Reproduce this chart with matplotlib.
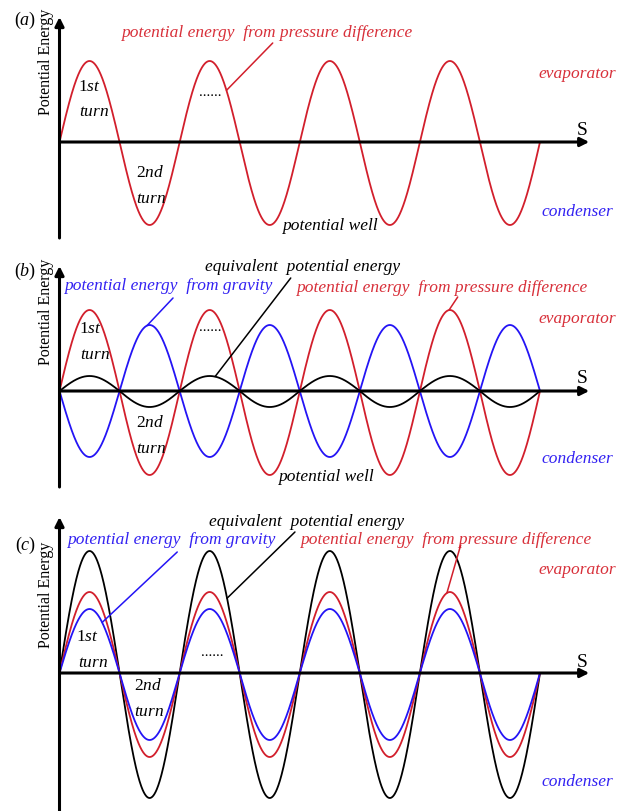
import matplotlib.pyplot as plt
import numpy as np

plt.rcParams['font.family'] = 'Liberation Serif'
plt.rcParams['mathtext.fontset'] = 'custom'
plt.rcParams['mathtext.rm'] = 'Liberation Serif'
plt.rcParams['mathtext.it'] = 'Liberation Serif:italic'

RED = '#d21f2c'
BLUE = '#2414f5'
RED_TXT = '#d8303a'
BLUE_TXT = '#3322f2'

# s in units of half a turn, eight half turns along the pipe
n_half = 8
# amplitudes (upper lobe, lower lobe) for each panel
amp_a_red = (81, 83)
amp_b_red = (81, 84)
amp_b_blue = (66, 66)
amp_b_black = (15, 16)
amp_c_black = (122, 125)
amp_c_red = (81, 84)
amp_c_blue = (64, 67)

s = np.linspace(0, n_half, 2000)


def wave(x, amp, sign=1):
    v = sign * np.sin(np.pi * x)
    return np.where(v >= 0, amp[0] * v, amp[1] * v)


fig = plt.figure(figsize=(6.26, 8.11), dpi=100)
boxes = [[0, 0.6979, 1, 0.3021], [0, 0.3958, 1, 0.3021], [0, 0.0, 1, 0.3958]]
ylims = [(-103, 142), (-99, 146), (-138, 183)]
yaxis = [(-96, 125), (-96, 125), (-138, 156)]
axes = []
for box, yl, ya in zip(boxes, ylims, yaxis):
    ax = fig.add_axes(box)
    ax.set_xlim(-0.9907, 9.432)
    ax.set_ylim(*yl)
    ax.axis('off')
    arrow = dict(arrowstyle='-|>', lw=2.2, color='black', mutation_scale=13,
                 shrinkA=0, shrinkB=0)
    ax.annotate('', xy=(8.82, 0), xytext=(0, 0), arrowprops=arrow, zorder=5)
    ax.annotate('', xy=(0, ya[1]), xytext=(0, ya[0]), arrowprops=arrow, zorder=5)
    axes.append(ax)

lw = 1.3
it = dict(style='italic', fontsize=12.5, ha='center', va='center')
small = dict(fontsize=12.5, ha='center', va='center')


def common(ax, label, py, turns, dots, ev, co):
    ax.text(-0.57, py[0], label, fontsize=13, ha='center', va='center')
    ax.text(-0.225, py[1], 'Potential Energy', rotation=90, fontsize=11.5,
            ha='center', va='center')
    ax.text(8.70, py[2], 'S', fontsize=14, ha='center', va='center')
    ax.text(turns[0][0], turns[0][1], '$1st$', **small)
    ax.text(turns[1][0], turns[1][1], '$turn$', **small)
    ax.text(turns[2][0], turns[2][1], '$2nd$', **small)
    ax.text(turns[3][0], turns[3][1], '$turn$', **small)
    ax.text(dots[0], dots[1], '......', fontsize=11, ha='center', va='center')
    ax.text(8.62, ev, 'evaporator', color=RED_TXT, **it)
    ax.text(8.62, co, 'condenser', color=BLUE_TXT, **it)


def leader(ax, x0, f, start, color):
    ax.annotate('', xy=(x0, f(x0)), xytext=start,
                arrowprops=dict(arrowstyle='-', lw=1.1, color=color,
                                shrinkA=0, shrinkB=0))


# (a) pressure difference only
ax = axes[0]
ax.plot(s, wave(s, amp_a_red), color=RED, lw=lw)
common(ax, '$(a)$', (122, 80, 12),
       [(0.49, 55), (0.57, 30), (1.51, -31), (1.52, -57)], (2.51, 50), 68, -70)
ax.text(3.45, 109, 'potential energy  from pressure difference', color=RED_TXT, **it)
leader(ax, 2.78, lambda x: wave(x, amp_a_red), (3.55, 99), RED)
ax.text(4.50, -84, 'potential well', **it)

# (b) gravity opposing pressure difference
ax = axes[1]
ax.plot(s, wave(s, amp_b_red), color=RED, lw=lw)
ax.plot(s, wave(s, amp_b_blue, -1), color=BLUE, lw=lw)
ax.plot(s, wave(s, amp_b_black), color='black', lw=lw)
common(ax, '$(b)$', (120, 79, 13),
       [(0.51, 62), (0.59, 36), (1.51, -32), (1.52, -58)], (2.51, 64), 72, -68)
ax.text(1.81, 105, 'potential energy  from gravity', color=BLUE_TXT, **it)
leader(ax, 1.457, lambda x: wave(x, amp_b_blue, -1), (1.89, 93), BLUE)
ax.text(4.04, 124, 'equivalent  potential energy', **it)
leader(ax, 2.59, lambda x: wave(x, amp_b_black), (3.85, 113), 'black')
ax.text(6.37, 103, 'potential energy  from pressure difference', color=RED_TXT, **it)
leader(ax, 6.485, lambda x: wave(x, amp_b_red), (6.63, 94), RED)
ax.text(4.44, -86, 'potential well', **it)

# (c) gravity adding to pressure difference
ax = axes[2]
ax.plot(s, wave(s, amp_c_black), color='black', lw=lw)
ax.plot(s, wave(s, amp_c_red), color=RED, lw=lw)
ax.plot(s, wave(s, amp_c_blue), color=BLUE, lw=lw)
common(ax, '$(c)$', (128, 78, 11),
       [(0.47, 36), (0.56, 10), (1.47, -13), (1.49, -39)], (2.54, 21), 103, -109)
ax.text(1.86, 133, 'potential energy  from gravity', color=BLUE_TXT, **it)
leader(ax, 0.71, lambda x: wave(x, amp_c_blue), (1.96, 121), BLUE)
ax.text(4.12, 151, 'equivalent  potential energy', **it)
leader(ax, 2.79, lambda x: wave(x, amp_c_black), (3.92, 141), 'black')
ax.text(6.43, 133, 'potential energy  from pressure difference', color=RED_TXT, **it)
leader(ax, 6.45, lambda x: wave(x, amp_c_red), (6.68, 128), RED)

fig.savefig('out.png', dpi=100)
